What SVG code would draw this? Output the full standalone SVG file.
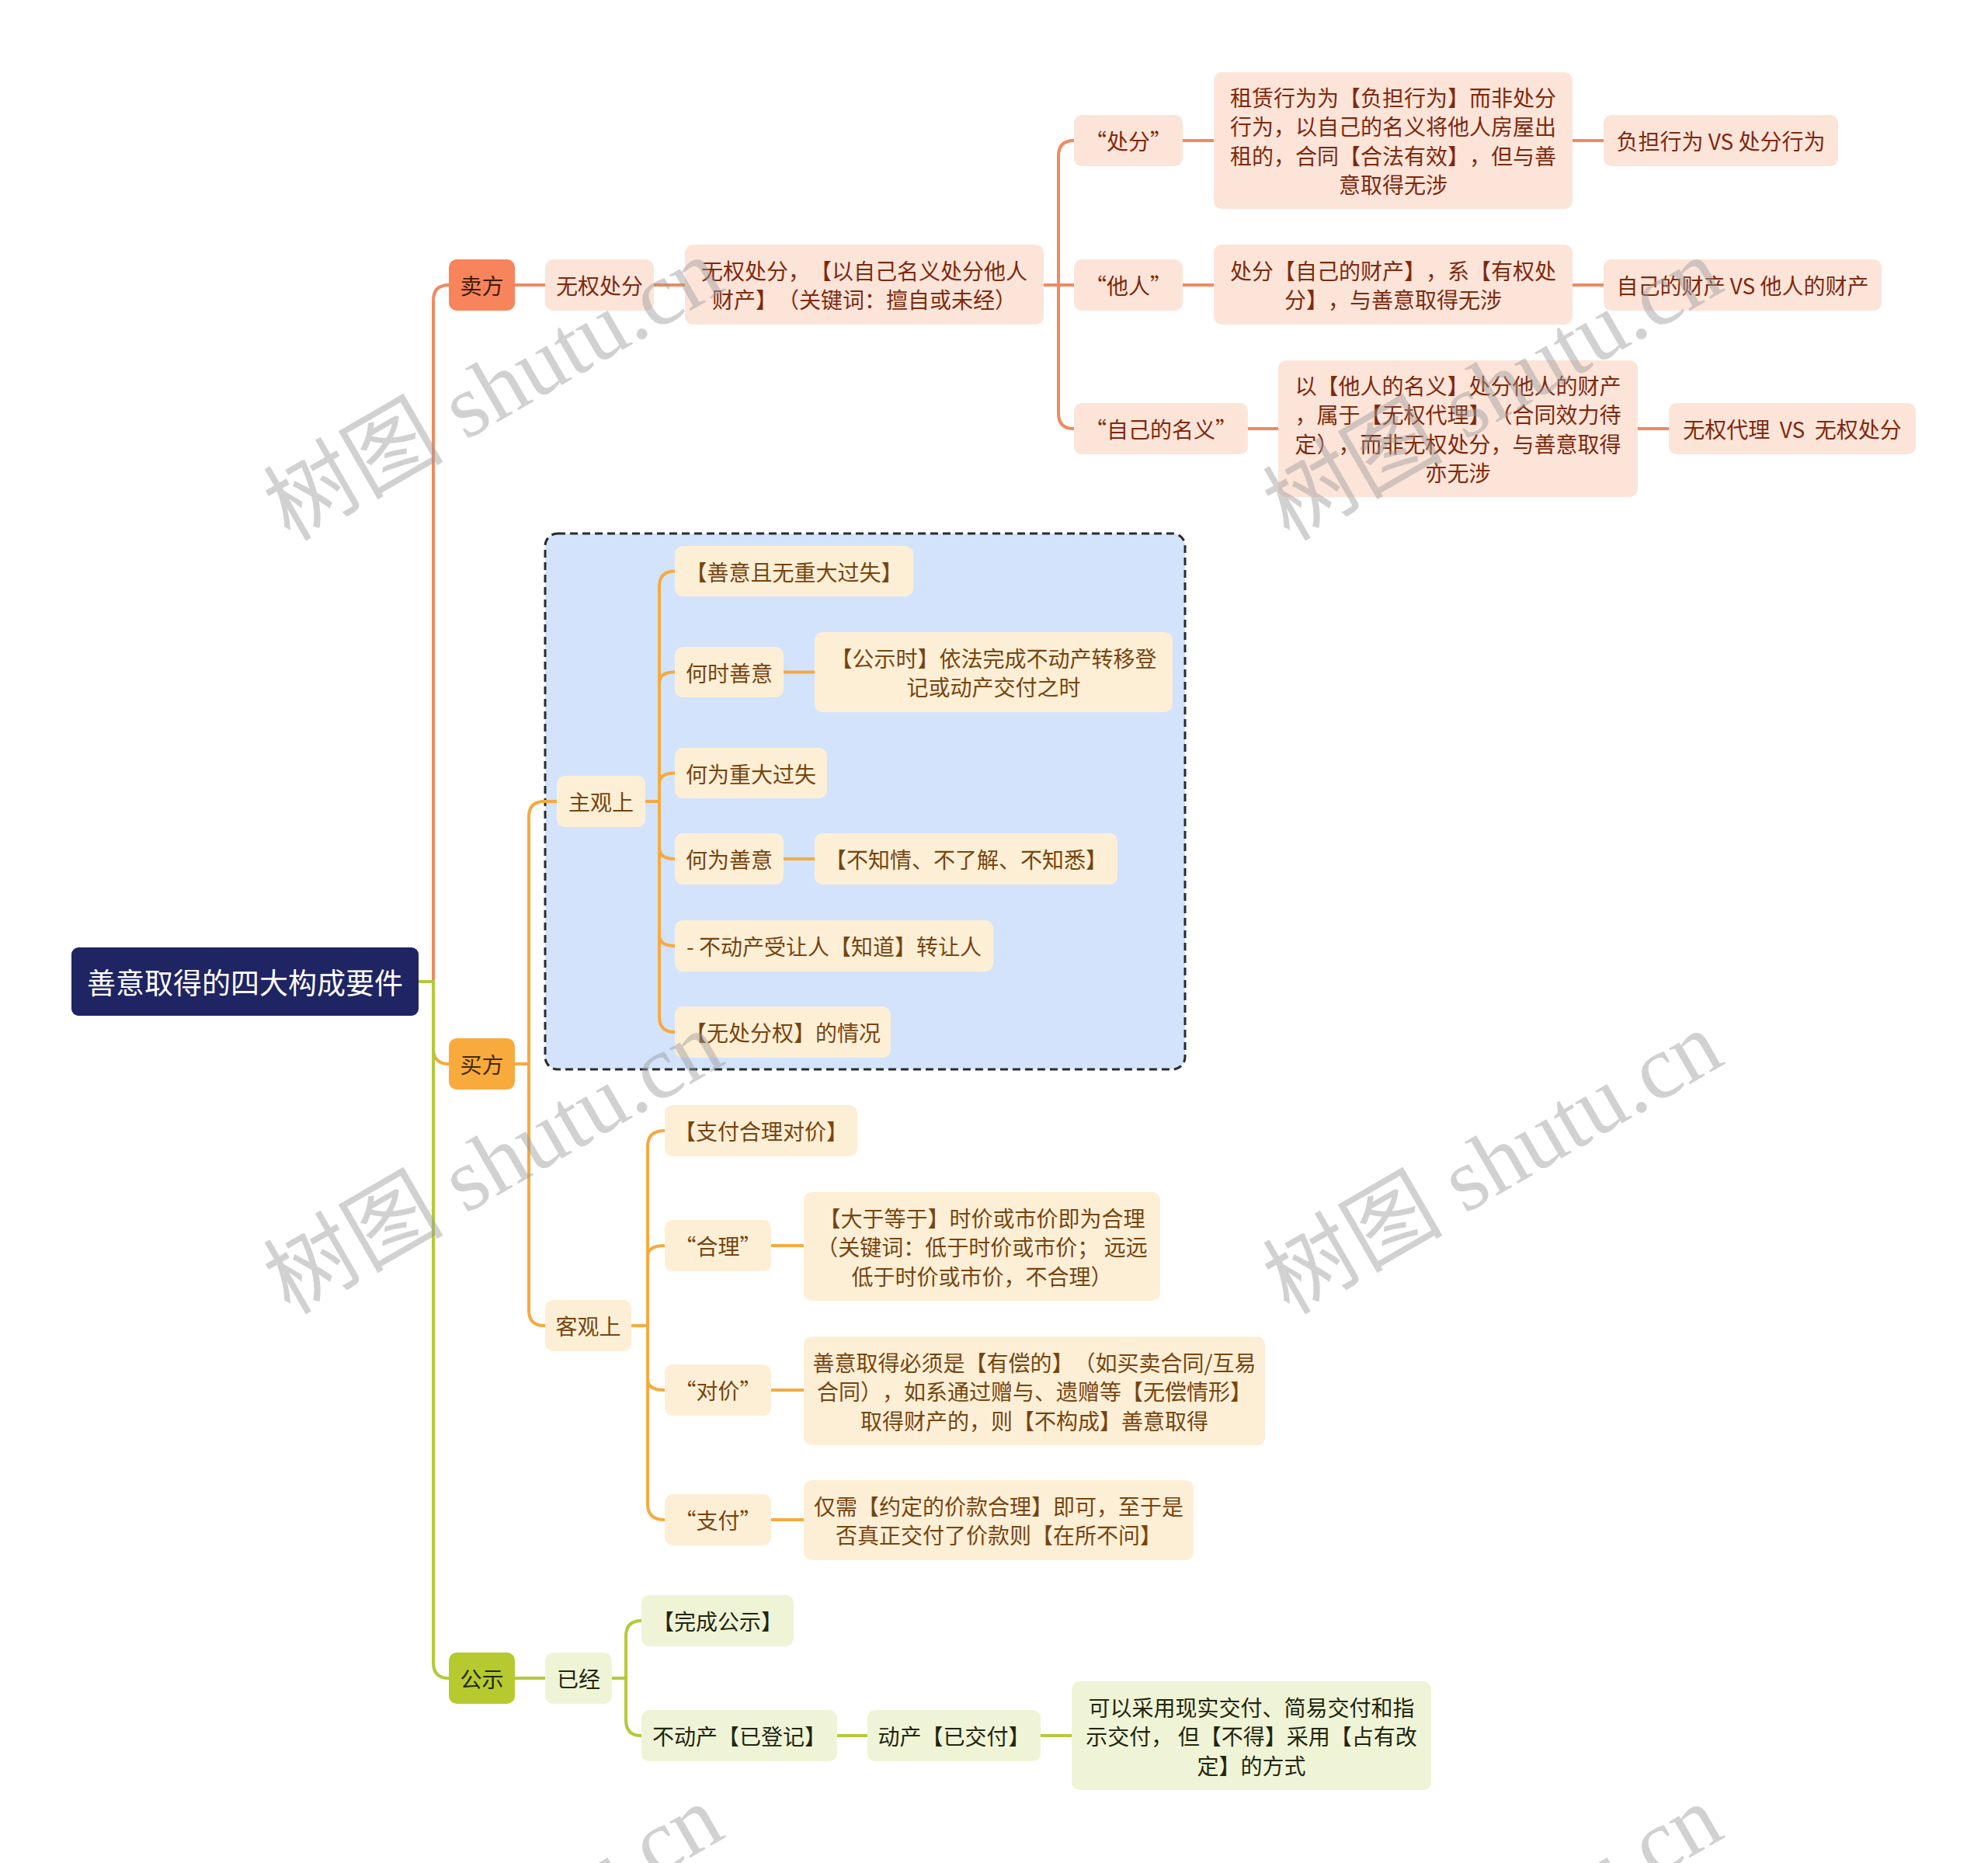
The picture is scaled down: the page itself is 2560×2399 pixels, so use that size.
<svg xmlns="http://www.w3.org/2000/svg" width="2560" height="2399" viewBox="0 0 2560 2399">
<style>
.t{font-family:"Noto Sans CJK SC","Noto Sans",sans-serif;font-size:28px;dominant-baseline:central;text-anchor:middle;white-space:pre;text-spacing-trim:space-all}
.root{font-size:37px;fill:#ffffff}
.s1{fill:#f7845a}.s1t{fill:#3b1a0c}
.s2{fill:#fde4d9}.s2t{fill:#7d2a0e}
.b1{fill:#f9aa3c}.b1t{fill:#3d2a08}
.b2{fill:#fdefd6}.b2t{fill:#774510}
.p1{fill:#b6ca2f}.p1t{fill:#1f2605}
.p2{fill:#f0f4d7}.p2t{fill:#22260f}
.cs,.cb,.cp{fill:none;stroke-width:4;stroke-linecap:round}
.cs{stroke:#ef8a60}.cb{stroke:#f5aa40}.cp{stroke:#b5c93a}
.wm{font-family:"Liberation Serif","Noto Sans CJK SC",serif;font-size:116px;fill:#9a9a9a;opacity:.45}
</style>
<rect width="2560" height="2399" fill="#ffffff"/>

<g id="frame-subjective">
<rect x="702" y="687" width="824" height="690" rx="16" fill="#d3e3fc" stroke="#2b2b2b" stroke-width="3" stroke-dasharray="10 6"/>
</g>

<g id="connectors">
<g class="cs">
<path d="M539,1264 H558 V387 Q558,367 578,367"/>
<path d="M663,367 H702"/>
<path d="M842,367 H882"/>
<path d="M1344,367 H1383"/>
<path d="M1363,367 V201 Q1363,181 1383,181"/>
<path d="M1363,367 V532 Q1363,552 1383,552"/>
<path d="M1523,181 H1563"/>
<path d="M2025,181 H2065"/>
<path d="M1523,367 H1563"/>
<path d="M2025,367 H2065"/>
<path d="M1607,552 H1646"/>
<path d="M2109,552 H2149"/>
</g>
<g class="cb">
<path d="M539,1264 H558 V1350 Q558,1370 578,1370"/>
<path d="M663,1370 H681"/>
<path d="M681,1370 V1052 Q681,1032 701,1032 H717"/>
<path d="M681,1370 V1687 Q681,1707 701,1707 H702"/>
<path d="M831,1032 H849"/>
<path d="M849,1032 V755.5 Q849,735.5 869,735.5"/>
<path d="M849,1032 V879.5 Q849,865.5 869,865.5"/>
<path d="M849,1032 V1009.5 Q849,995.5 869,995.5"/>
<path d="M849,1032 V1092 Q849,1106 869,1106"/>
<path d="M849,1032 V1204 Q849,1218 869,1218"/>
<path d="M849,1032 V1309 Q849,1329 869,1329"/>
<path d="M1009,865.5 H1049"/>
<path d="M1009,1106 H1049"/>
<path d="M813,1707 H834"/>
<path d="M834,1707 V1476 Q834,1456 856,1456"/>
<path d="M834,1707 V1618 Q834,1604 856,1604"/>
<path d="M834,1707 V1776 Q834,1790 856,1790"/>
<path d="M834,1707 V1937 Q834,1957 856,1957"/>
<path d="M993,1604 H1035"/>
<path d="M993,1790 H1035"/>
<path d="M993,1957 H1035"/>
</g>
<g class="cp">
<path d="M539,1264 H558 V2141 Q558,2161 578,2161"/>
<path d="M663,2161 H702"/>
<path d="M788,2161 H806"/>
<path d="M806,2161 V2107 Q806,2087 826,2087"/>
<path d="M806,2161 V2215 Q806,2235 826,2235"/>
<path d="M1078,2235 H1117"/>
<path d="M1340,2235 H1380"/>
</g>
</g>

<g id="root"><rect x="92" y="1220" width="447" height="88" rx="9" fill="#1f2463"/><text class="t root" x="315.5" y="1264">善意取得的四大构成要件</text></g>

<g id="seller"><rect class="s1" x="578" y="334" width="85" height="66" rx="10"/><text class="t s1t" x="620.5" y="367">卖方</text></g>
<g id="s-wqcf"><rect class="s2" x="702" y="334" width="140" height="66" rx="10"/><text class="t s2t" x="772" y="367">无权处分</text></g>
<g id="s-wqcf-def"><rect class="s2" x="882" y="315" width="462" height="103" rx="10"/><text class="t s2t" x="1113" y="347.75">无权处分，【以自己名义处分他人</text><text class="t s2t" x="1113" y="385.25">财产】（关键词：擅自或未经）</text></g>
<g id="s-chufen"><rect class="s2" x="1383" y="148" width="140" height="66" rx="10"/><text class="t s2t" x="1453" y="181">“处分”</text></g>
<g id="s-chufen-t"><rect class="s2" x="1563" y="93" width="462" height="176" rx="10"/><text class="t s2t" x="1794" y="124.75">租赁行为为【负担行为】而非处分</text><text class="t s2t" x="1794" y="162.25">行为，以自己的名义将他人房屋出</text><text class="t s2t" x="1794" y="199.75">租的，合同【合法有效】，但与善</text><text class="t s2t" x="1794" y="237.25">意取得无涉</text></g>
<g id="s-chufen-vs"><rect class="s2" x="2065" y="148" width="302" height="66" rx="10"/><text class="t s2t" x="2216" y="181">负担行为 VS 处分行为</text></g>
<g id="s-taren"><rect class="s2" x="1383" y="334" width="140" height="66" rx="10"/><text class="t s2t" x="1453" y="367">“他人”</text></g>
<g id="s-taren-t"><rect class="s2" x="1563" y="315" width="462" height="103" rx="10"/><text class="t s2t" x="1794" y="347.75">处分【自己的财产】，系【有权处</text><text class="t s2t" x="1794" y="385.25">分】，与善意取得无涉</text></g>
<g id="s-taren-vs"><rect class="s2" x="2065" y="334" width="358" height="66" rx="10"/><text class="t s2t" x="2244" y="367">自己的财产 VS 他人的财产</text></g>
<g id="s-mingyi"><rect class="s2" x="1383" y="519" width="224" height="66" rx="10"/><text class="t s2t" x="1495" y="552">“自己的名义”</text></g>
<g id="s-mingyi-t"><rect class="s2" x="1646" y="464" width="463" height="176" rx="10"/><text class="t s2t" x="1877.5" y="495.75">以【他人的名义】处分他人的财产</text><text class="t s2t" x="1877.5" y="533.25">，属于【无权代理】（合同效力待</text><text class="t s2t" x="1877.5" y="570.75">定），而非无权处分，与善意取得</text><text class="t s2t" x="1877.5" y="608.25">亦无涉</text></g>
<g id="s-mingyi-vs"><rect class="s2" x="2149" y="519" width="318" height="66" rx="10"/><text class="t s2t" x="2308" y="552" xml:space="preserve">无权代理  VS  无权处分</text></g>

<g id="buyer"><rect class="b1" x="578" y="1337" width="85" height="66" rx="10"/><text class="t b1t" x="620.5" y="1370">买方</text></g>
<g id="b-zhuguan"><rect class="b2" x="717" y="999" width="114" height="66" rx="10"/><text class="t b2t" x="774" y="1032">主观上</text></g>
<g id="b-z1"><rect class="b2" x="869" y="703" width="307" height="65" rx="10"/><text class="t b2t" x="1022.5" y="735.5">【善意且无重大过失】</text></g>
<g id="b-z2"><rect class="b2" x="869" y="833" width="140" height="65" rx="10"/><text class="t b2t" x="939" y="865.5">何时善意</text></g>
<g id="b-z2t"><rect class="b2" x="1049" y="814" width="461" height="103" rx="10"/><text class="t b2t" x="1279.5" y="846.75">【公示时】依法完成不动产转移登</text><text class="t b2t" x="1279.5" y="884.25">记或动产交付之时</text></g>
<g id="b-z3"><rect class="b2" x="869" y="963" width="196" height="65" rx="10"/><text class="t b2t" x="967" y="995.5">何为重大过失</text></g>
<g id="b-z4"><rect class="b2" x="869" y="1073" width="140" height="66" rx="10"/><text class="t b2t" x="939" y="1106">何为善意</text></g>
<g id="b-z4t"><rect class="b2" x="1049" y="1073" width="390" height="66" rx="10"/><text class="t b2t" x="1244" y="1106">【不知情、不了解、不知悉】</text></g>
<g id="b-z5"><rect class="b2" x="869" y="1185" width="410" height="66" rx="10"/><text class="t b2t" x="1074" y="1218">- 不动产受让人【知道】转让人</text></g>
<g id="b-z6"><rect class="b2" x="869" y="1296" width="278" height="66" rx="10"/><text class="t b2t" x="1008" y="1329">【无处分权】的情况</text></g>
<g id="b-keguan"><rect class="b2" x="702" y="1674" width="111" height="66" rx="10"/><text class="t b2t" x="757.5" y="1707">客观上</text></g>
<g id="b-k1"><rect class="b2" x="856" y="1423" width="248" height="66" rx="10"/><text class="t b2t" x="980" y="1456">【支付合理对价】</text></g>
<g id="b-k2"><rect class="b2" x="856" y="1571" width="137" height="66" rx="10"/><text class="t b2t" x="924.5" y="1604">“合理”</text></g>
<g id="b-k2t"><rect class="b2" x="1035" y="1535" width="459" height="140" rx="10"/><text class="t b2t" x="1264.5" y="1567.5">【大于等于】时价或市价即为合理</text><text class="t b2t" x="1264.5" y="1605">（关键词：低于时价或市价； 远远</text><text class="t b2t" x="1264.5" y="1642.5">低于时价或市价，不合理）</text></g>
<g id="b-k3"><rect class="b2" x="856" y="1757" width="137" height="66" rx="10"/><text class="t b2t" x="924.5" y="1790">“对价”</text></g>
<g id="b-k3t"><rect class="b2" x="1035" y="1721" width="594" height="140" rx="10"/><text class="t b2t" x="1332" y="1753.5">善意取得必须是【有偿的】（如买卖合同/互易</text><text class="t b2t" x="1332" y="1791">合同），如系通过赠与、遗赠等【无偿情形】</text><text class="t b2t" x="1332" y="1828.5">取得财产的，则【不构成】善意取得</text></g>
<g id="b-k4"><rect class="b2" x="856" y="1924" width="137" height="66" rx="10"/><text class="t b2t" x="924.5" y="1957">“支付”</text></g>
<g id="b-k4t"><rect class="b2" x="1035" y="1906" width="502" height="103" rx="10"/><text class="t b2t" x="1286" y="1938.75">仅需【约定的价款合理】即可，至于是</text><text class="t b2t" x="1286" y="1976.25">否真正交付了价款则【在所不问】</text></g>

<g id="public"><rect class="p1" x="578" y="2128" width="85" height="66" rx="10"/><text class="t p1t" x="620.5" y="2161">公示</text></g>
<g id="p-yijing"><rect class="p2" x="702" y="2128" width="86" height="66" rx="10"/><text class="t p2t" x="745" y="2161">已经</text></g>
<g id="p-1"><rect class="p2" x="826" y="2054" width="196" height="66" rx="10"/><text class="t p2t" x="924" y="2087">【完成公示】</text></g>
<g id="p-2"><rect class="p2" x="826" y="2202" width="252" height="66" rx="10"/><text class="t p2t" x="952" y="2235">不动产【已登记】</text></g>
<g id="p-3"><rect class="p2" x="1117" y="2202" width="223" height="66" rx="10"/><text class="t p2t" x="1228.5" y="2235">动产【已交付】</text></g>
<g id="p-4"><rect class="p2" x="1380" y="2165" width="463" height="140" rx="10"/><text class="t p2t" x="1611.5" y="2197.5">可以采用现实交付、简易交付和指</text><text class="t p2t" x="1611.5" y="2235">示交付， 但【不得】采用【占有改</text><text class="t p2t" x="1611.5" y="2272.5">定】的方式</text></g>

<g id="watermark">
<text class="wm" transform="translate(373,698) rotate(-30)">树图 shutu.cn</text>
<text class="wm" transform="translate(1660,698) rotate(-30)">树图 shutu.cn</text>
<text class="wm" transform="translate(373,1694) rotate(-30)">树图 shutu.cn</text>
<text class="wm" transform="translate(1660,1694) rotate(-30)">树图 shutu.cn</text>
<text class="wm" transform="translate(373,2690) rotate(-30)">树图 shutu.cn</text>
<text class="wm" transform="translate(1660,2690) rotate(-30)">树图 shutu.cn</text>
</g>
</svg>
